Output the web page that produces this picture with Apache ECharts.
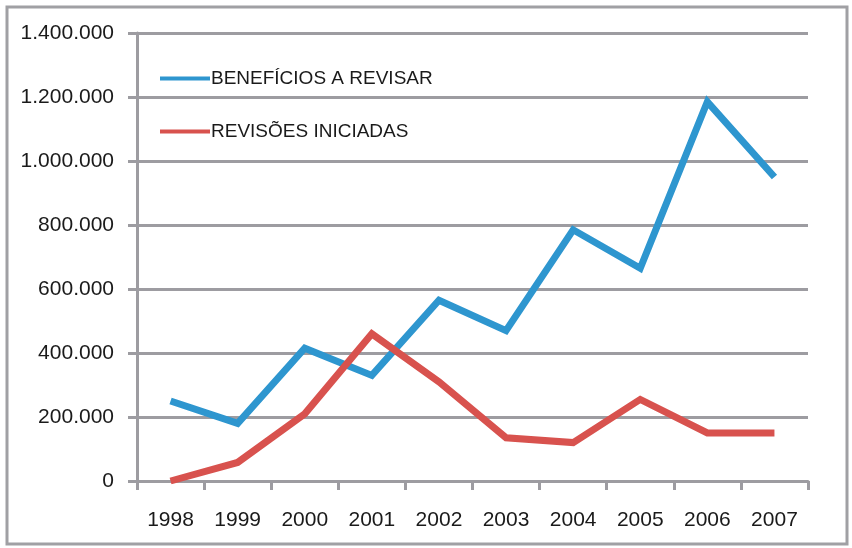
<!DOCTYPE html>
<html>
<head>
<meta charset="utf-8">
<script src="https://cdn.jsdelivr.net/npm/echarts@6/dist/echarts.min.js"></script>
<style>
  html, body { margin: 0; padding: 0; background: #fff; }
  #chart { width: 852px; height: 548px; }
</style>
</head>
<body>
<div id="chart"></div>
<script>
const years = ['1998', '1999', '2000', '2001', '2002', '2003', '2004', '2005', '2006', '2007']
const beneficios = [250000, 180000, 415000, 330000, 565000, 470000, 785000, 665000, 1185000, 950000]
const revisoes = [0, 58000, 210000, 460000, 310000, 135000, 120000, 255000, 150000, 150000]
const seriesNames = ['BENEFÍCIOS A REVISAR', 'REVISÕES INICIADAS']

const font = '"Liberation Sans", sans-serif'
const gridColor = '#9d9ca1'

// 1400000 -> 1.400.000
const fmt = (v) => String(v).replace(/\B(?=(\d{3})+(?!\d))/g, '.')

const chart = echarts.init(document.getElementById('chart'))

const option = {
  backgroundColor: '#fff',
  animation: false,
  graphic: [
    {
      type: 'rect',
      shape: { x: 7, y: 7, width: 840, height: 537 },
      style: { fill: 'none', stroke: '#a0a0a4', lineWidth: 3 },
    },
  ],
  grid: {
    left: 137,
    right: 44,
    top: 33,
    bottom: 67,
  },
  legend: {
    orient: 'vertical',
    left: 155,
    top: 64,
    itemGap: 34,
    itemWidth: 50,
    itemHeight: 4,
    icon: 'rect',
    textStyle: {
      color: '#1a1a1a',
      fontSize: 19,
      fontFamily: font,
      padding: [0, 0, 0, -4],
    },
    data: seriesNames,
  },
  xAxis: {
    type: 'category',
    boundaryGap: true,
    data: years,
    axisLine: { show: true, lineStyle: { color: gridColor, width: 3 } },
    axisTick: { show: true, length: 9, lineStyle: { color: gridColor, width: 3 } },
    axisLabel: {
      color: '#1a1a1a',
      fontSize: 21,
      fontFamily: font,
      margin: 29,
    },
  },
  yAxis: {
    type: 'value',
    min: 0,
    max: 1400000,
    interval: 200000,
    axisLine: { show: true, lineStyle: { color: gridColor, width: 3 } },
    axisTick: { show: true, length: 9, lineStyle: { color: gridColor, width: 3 } },
    splitLine: { show: true, lineStyle: { color: gridColor, width: 3 } },
    axisLabel: {
      color: '#1a1a1a',
      fontSize: 21,
      fontFamily: font,
      margin: 23,
      formatter: fmt,
    },
  },
  series: [
    {
      name: seriesNames[0],
      type: 'line',
      data: beneficios,
      showSymbol: false,
      symbol: 'none',
      color: '#2e96cf',
      lineStyle: { color: '#2e96cf', width: 7, cap: 'butt', join: 'miter' },
    },
    {
      name: seriesNames[1],
      type: 'line',
      data: revisoes,
      showSymbol: false,
      symbol: 'none',
      color: '#d8524e',
      lineStyle: { color: '#d8524e', width: 7, cap: 'butt', join: 'miter' },
    },
  ],
}

chart.setOption(option)
</script>
</body>
</html>
